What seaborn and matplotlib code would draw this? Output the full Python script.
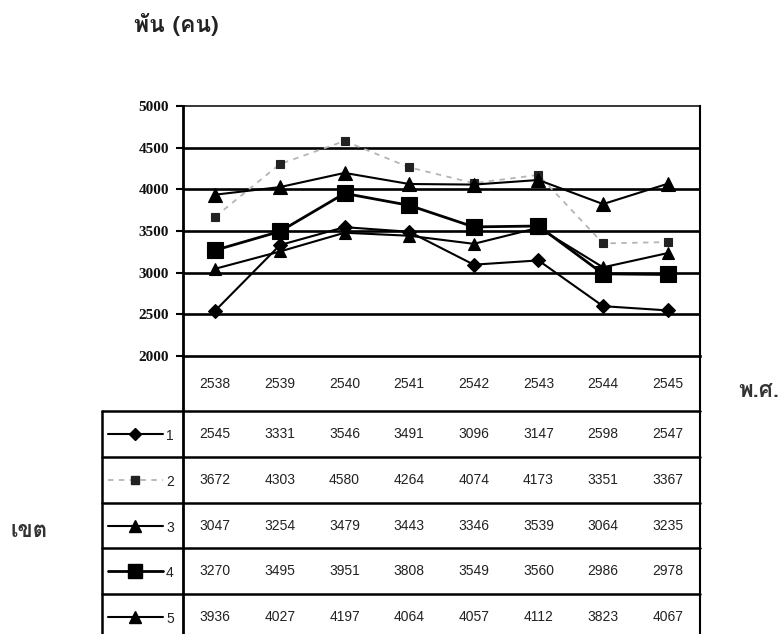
import numpy as np
import pandas as pd
import matplotlib
matplotlib.use("Agg")
import matplotlib.pyplot as plt
import matplotlib.transforms as mtrans
import seaborn as sns

# ---------------- data ----------------
years = ["2538", "2539", "2540", "2541", "2542", "2543", "2544", "2545"]
districts = ["1", "2", "3", "4", "5"]
s1 = [2545, 3331, 3546, 3491, 3096, 3147, 2598, 2547]
s2 = [3672, 4303, 4580, 4264, 4074, 4173, 3351, 3367]
s3 = [3047, 3254, 3479, 3443, 3346, 3539, 3064, 3235]
s4 = [3270, 3495, 3951, 3808, 3549, 3560, 2986, 2978]
s5 = [3936, 4027, 4197, 4064, 4057, 4112, 3823, 4067]
y_ticks = [2000, 2500, 3000, 3500, 4000, 4500, 5000]
y_label = "พัน (คน)"
x_label = "พ.ศ."
row_label = "เขต"

series = [s1, s2, s3, s4, s5]

# ---------------- style ----------------
sns.set_theme(style="white")
plt.rcParams['font.family'] = ['Liberation Sans', 'DejaVu Sans']
thai = ['Loma', 'FreeSerif', 'DejaVu Sans']

styles = [
    dict(marker='D', markersize=7, color='black', linewidth=1.5, linestyle='-',
         markerfacecolor='black', markeredgecolor='black'),
    dict(marker='s', markersize=6, color='#b5b5b5', linewidth=1.3, linestyle=(0, (3, 3)),
         markerfacecolor='#222222', markeredgecolor='#222222'),
    dict(marker='^', markersize=9, color='black', linewidth=1.5, linestyle='-',
         markerfacecolor='black', markeredgecolor='black'),
    dict(marker='s', markersize=11, color='black', linewidth=2.0, linestyle='-',
         markerfacecolor='black', markeredgecolor='black'),
    dict(marker='^', markersize=10, color='black', linewidth=1.5, linestyle='-',
         markerfacecolor='black', markeredgecolor='black'),
]

W, H = 782, 634
fig = plt.figure(figsize=(W / 100, H / 100), dpi=100)

# full-figure axes in pixel units for the data table and labels
tab = fig.add_axes([0, 0, 1, 1])
tab.set_xlim(0, W)
tab.set_ylim(H, 0)
tab.axis('off')

L, R, T, B = 183, 700, 106, 356
ax = fig.add_axes([L / W, 1 - B / H, (R - L) / W, (B - T) / H])
ax.patch.set_alpha(0)

xs = np.arange(len(years))
order = [1, 0, 2, 3, 4]
for k in order:
    sns.lineplot(x=xs, y=series[k], ax=ax, zorder=3 if k != 1 else 2,
                 markeredgewidth=0.8, **styles[k])

ax.set_xlim(-0.5, len(years) - 0.5)
ax.set_ylim(y_ticks[0], y_ticks[-1])
ax.set_yticks(y_ticks)
ax.set_yticklabels([str(v) for v in y_ticks], fontfamily='Liberation Serif',
                   fontweight='bold', fontsize=11)
ax.set_xticks([])
ax.set_xlabel('')
ax.set_ylabel('')
ax.tick_params(axis='y', left=True, length=5, width=1.5, pad=5, direction='out',
               color='black', labelcolor='#111111')
for v in y_ticks[1:-1]:
    ax.axhline(v, color='black', linewidth=1.9, zorder=1)
for name, sp in ax.spines.items():
    sp.set_color('black')
ax.spines['left'].set_linewidth(2.0)
ax.spines['right'].set_linewidth(1.5)
ax.spines['top'].set_linewidth(1.1)
ax.spines['bottom'].set_linewidth(1.9)

# ---------------- data table ----------------
row_edges = [411, 457, 503, 548, 594, 640]
tab.plot([L, L], [B, H], color='black', lw=2.0)
tab.plot([R, R], [B, H], color='black', lw=1.5)
tab.plot([102, 102], [row_edges[0], H], color='black', lw=1.8)
for y in row_edges[:-1]:
    tab.plot([102, R], [y, y], color='black', lw=1.8)

blend = mtrans.blended_transform_factory(ax.transData, tab.transData)
for i, yr in enumerate(years):
    tab.text(i, (B + row_edges[0]) / 2, yr, transform=blend, ha='center',
             va='center', fontsize=10, color='#222222')

for r, (name, vals) in enumerate(zip(districts, series)):
    yc = (row_edges[r] + row_edges[r + 1]) / 2
    for i, v in enumerate(vals):
        tab.text(i, yc, str(v), transform=blend, ha='center', va='center',
                 fontsize=10, color='#222222')
    st = dict(styles[r])
    tab.plot([108, 163], [yc, yc], color=st['color'], lw=st['linewidth'],
             linestyle=st['linestyle'])
    tab.plot([135], [yc], marker=st['marker'], markersize=st['markersize'] * 0.9,
             color=st['markerfacecolor'], linestyle='none')
    tab.text(166, yc + 2, name, ha='left', va='center', fontsize=10, color='#222222')

# ---------------- labels ----------------
tab.text(134, 25, y_label, ha='left', va='center', fontsize=16.5, fontweight='bold',
         family=thai, color='#222222')
tab.text(738, 391, x_label, ha='left', va='center', fontsize=16, fontweight='bold',
         family=thai, color='#333333')
tab.text(11, 531, row_label, ha='left', va='center', fontsize=16, fontweight='bold',
         family=thai, color='#333333')

fig.savefig("out.png", dpi=100)
